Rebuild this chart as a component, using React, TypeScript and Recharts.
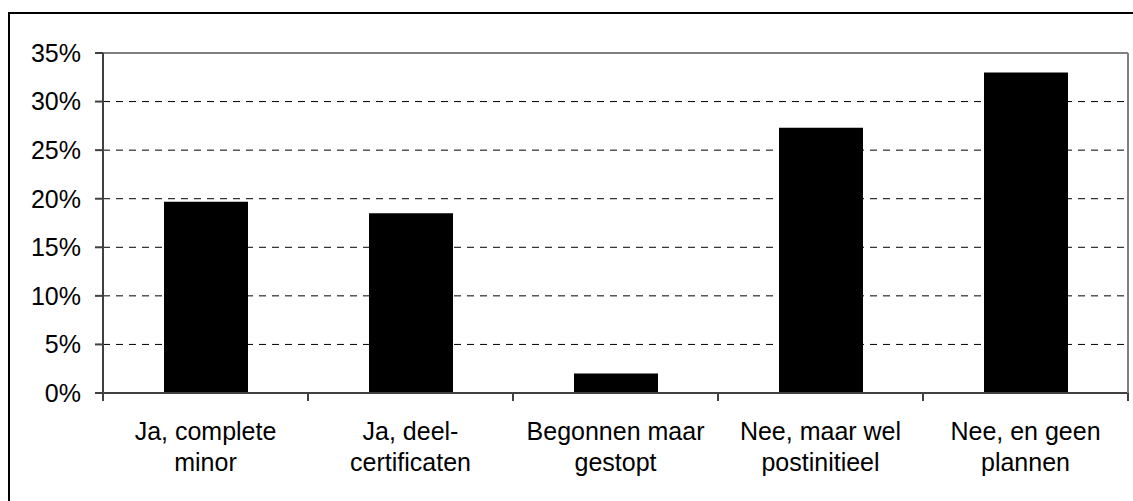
import { BarChart, Bar, XAxis, YAxis, CartesianGrid } from "recharts";

const categories = [
  "Ja, complete\nminor",
  "Ja, deel-\ncertificaten",
  "Begonnen maar\ngestopt",
  "Nee, maar wel\npostinitieel",
  "Nee, en geen\nplannen",
];
const shares = [19.7, 18.5, 2.0, 27.3, 33.0];
const yTicks = [0, 5, 10, 15, 20, 25, 30, 35];

const data = categories.map((name, i) => ({ name, value: shares[i] }));

const FONT = "'Liberation Sans', Arial, sans-serif";

// label plus Excel-style tick marks on the category boundaries
function CategoryTick({ x, y, payload, index }: any) {
  const lines = String(payload.value).split("\n");
  const half = payload.offset || 0;
  const last = index === categories.length - 1;
  return (
    <g>
      <line x1={x - half} x2={x - half} y1={y} y2={y + 8} stroke="#404040" strokeWidth={2} />
      {last && <line x1={x + half} x2={x + half} y1={y} y2={y + 8} stroke="#404040" strokeWidth={2} />}
      <text x={x} y={y} textAnchor="middle" fill="#000" fontSize={25} fontFamily={FONT}>
        {lines.map((l, i) => (
          <tspan key={i} x={x} dy={i === 0 ? 47 : 31}>{l}</tspan>
        ))}
      </text>
    </g>
  );
}

export default function App() {
  return (
    <div style={{ position: "absolute", left: 0, top: 0, width: 1133, height: 501, overflow: "hidden", background: "#fff" }}>
      <div style={{ position: "absolute", left: 8, top: 12, width: 1200, height: 600, border: "2px solid #000" }} />
      <div style={{ position: "absolute", left: 0, top: 0 }}>
        <BarChart width={1133} height={501} data={data} margin={{ top: 52, right: 4, left: 0, bottom: 48 }}>
          <CartesianGrid xAxisId="cat" vertical={false} stroke="#000" strokeDasharray="7 6" />
          <XAxis
            xAxisId="cat"
            dataKey="name"
            tick={<CategoryTick />}
            tickLine={false}
            tickSize={0}
            tickMargin={0}
            interval={0}
            axisLine={{ stroke: "#404040", strokeWidth: 2 }}
            height={60}
          />
          <XAxis
            xAxisId="top"
            orientation="top"
            dataKey="name"
            tick={false}
            tickLine={false}
            axisLine={{ stroke: "#808080", strokeWidth: 2 }}
            height={1}
          />
          <YAxis
            domain={[0, 35]}
            ticks={yTicks}
            tickFormatter={(v) => `${v}%`}
            tick={{ fill: "#000", fontSize: 25, fontFamily: FONT }}
            tickSize={8}
            tickMargin={14}
            tickLine={{ stroke: "#404040", strokeWidth: 2 }}
            axisLine={{ stroke: "#404040", strokeWidth: 2 }}
            width={103}
          />
          <YAxis
            yAxisId="right"
            orientation="right"
            domain={[0, 35]}
            tick={false}
            tickLine={false}
            axisLine={{ stroke: "#808080", strokeWidth: 2 }}
            width={1}
          />
          <Bar xAxisId="cat" dataKey="value" fill="#000" barSize={84} isAnimationActive={false} />
        </BarChart>
      </div>
    </div>
  );
}
